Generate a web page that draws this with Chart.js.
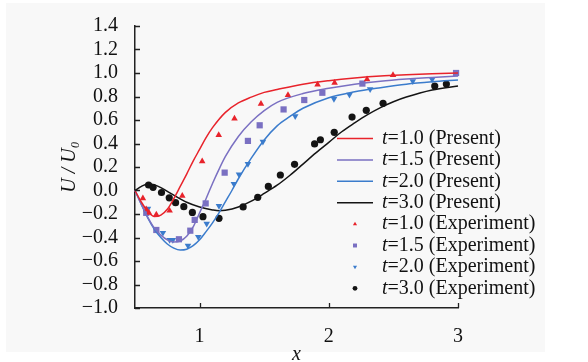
<!DOCTYPE html>
<html><head><meta charset="utf-8">
<script src="https://cdn.jsdelivr.net/npm/chart.js@4/dist/chart.umd.min.js"></script>
<style>
html,body{margin:0;padding:0;background:#fff;}
#wrap{position:relative;width:588px;height:362px;overflow:hidden;}
#panel{position:absolute;left:6px;top:3px;width:539px;height:349px;background:#f8f8f8;}
#c{position:absolute;left:0;top:0;}
</style></head><body>
<div id="wrap"><div id="panel"></div><canvas id="c" width="588" height="362"></canvas></div>
<script>
// ---- data ----
const xTicks = [1, 2, 3];
const yTicks = [-1.0, -0.8, -0.6, -0.4, -0.2, 0.0, 0.2, 0.4, 0.6, 0.8, 1.0, 1.2, 1.4];
const seriesNames = [
  "t=1.0 (Present)", "t=1.5 (Present)", "t=2.0 (Present)", "t=3.0 (Present)",
  "t=1.0 (Experiment)", "t=1.5 (Experiment)", "t=2.0 (Experiment)", "t=3.0 (Experiment)"
];

const present10X = [0.5,0.55,0.6,0.65,0.7,0.75,0.8,0.85,0.9,0.95,1.0,1.05,1.1,1.2,1.3,1.4,1.5,1.6,1.8,2.0,2.2,2.4,2.6,2.8,3.0];
const present10Y = [0,-0.10,-0.18,-0.222,-0.21,-0.16,-0.07,0.035,0.14,0.25,0.35,0.45,0.535,0.665,0.745,0.795,0.835,0.86,0.905,0.935,0.958,0.975,0.985,0.993,1.0];

const present15X = [0.5,0.55,0.6,0.65,0.7,0.75,0.8,0.85,0.9,0.95,1.0,1.05,1.1,1.15,1.2,1.3,1.4,1.5,1.6,1.8,2.0,2.2,2.4,2.6,2.8,3.0];
const present15Y = [0,-0.12,-0.23,-0.32,-0.38,-0.42,-0.438,-0.43,-0.39,-0.31,-0.19,-0.07,0.06,0.18,0.29,0.46,0.585,0.68,0.75,0.825,0.87,0.905,0.93,0.948,0.962,0.975];

const present20X = [0.5,0.55,0.6,0.65,0.7,0.75,0.8,0.85,0.9,0.95,1.0,1.05,1.1,1.15,1.2,1.25,1.3,1.4,1.5,1.6,1.7,1.8,2.0,2.2,2.4,2.6,2.8,3.0];
const present20Y = [0,-0.12,-0.235,-0.33,-0.40,-0.455,-0.49,-0.507,-0.50,-0.47,-0.42,-0.35,-0.275,-0.19,-0.095,0.0,0.10,0.275,0.43,0.55,0.63,0.70,0.79,0.84,0.875,0.905,0.925,0.94];

const present30X = [0.5,0.55,0.6,0.65,0.7,0.8,0.9,1.0,1.1,1.15,1.2,1.3,1.4,1.5,1.6,1.7,1.8,1.9,2.0,2.1,2.2,2.3,2.4,2.5,2.6,2.8,3.0];
const present30Y = [0,0.035,0.055,0.048,0.025,-0.04,-0.10,-0.14,-0.165,-0.172,-0.168,-0.14,-0.09,-0.025,0.045,0.13,0.225,0.32,0.41,0.50,0.575,0.645,0.705,0.755,0.795,0.855,0.89];

const exp10X = [0.561,0.587,0.608,0.665,0.768,0.866,1.02,1.148,1.27,1.475,1.684,1.913,2.045,2.296,2.497];
const exp10Y = [-0.066,-0.16,-0.19,-0.205,-0.172,-0.045,0.248,0.471,0.612,0.737,0.812,0.902,0.916,0.946,0.983];

const exp15X = [0.587,0.665,0.84,0.928,0.962,1.047,1.194,1.374,1.465,1.65,1.81,1.95,2.26,2.985];
const exp15Y = [-0.19,-0.336,-0.415,-0.342,-0.25,-0.11,0.152,0.422,0.555,0.69,0.77,0.832,0.91,1.0];

const exp20X = [0.6,0.716,0.768,0.793,0.91,0.99,1.055,1.15,1.265,1.305,1.374,1.49,1.74,2.04,2.16,2.32,2.65,2.8];
const exp20Y = [-0.155,-0.36,-0.42,-0.42,-0.47,-0.395,-0.283,-0.132,0.057,0.137,0.226,0.415,0.632,0.78,0.815,0.862,0.93,0.945];

const exp30X = [0.605,0.64,0.705,0.765,0.814,0.878,0.944,1.026,1.15,1.337,1.45,1.532,1.625,1.735,1.89,1.935,2.042,2.18,2.29,2.42,2.82,2.91];
const exp30Y = [0.047,0.027,-0.017,-0.062,-0.104,-0.138,-0.187,-0.223,-0.237,-0.14,-0.058,0.035,0.132,0.223,0.396,0.432,0.495,0.625,0.682,0.742,0.889,0.906];

// ---- build ----
const FONT = "'Liberation Serif','Times New Roman',serif";
const RED = '#e8232b', PURPLE = '#7a70c2', BLUE = '#3b7ccc', BLACK = '#141414';
const pts = (xs, ys) => xs.map((x, i) => ({x, y: ys[i]}));

function lineDs(i, xs, ys, color) {
  return {label: seriesNames[i], data: pts(xs, ys), borderColor: color, backgroundColor: color,
    borderWidth: 1.5, pointRadius: 0, showLine: true, cubicInterpolationMode: 'monotone', fill: false, clip: false};
}
function markDs(i, xs, ys, color, style, r, rot) {
  return {label: seriesNames[i], data: pts(xs, ys), borderColor: color, backgroundColor: color,
    borderWidth: 0, pointRadius: r, pointStyle: style, rotation: rot || 0, showLine: false, clip: false};
}

const datasets = [
  lineDs(0, present10X, present10Y, RED),
  lineDs(1, present15X, present15Y, PURPLE),
  lineDs(2, present20X, present20Y, BLUE),
  lineDs(3, present30X, present30Y, BLACK),
  markDs(4, exp10X, exp10Y, RED, 'triangle', 3.8, 0),
  markDs(5, exp15X, exp15Y, PURPLE, 'rect', 4.4, 0),
  markDs(6, exp20X, exp20Y, BLUE, 'triangle', 3.8, 180),
  markDs(7, exp30X, exp30Y, BLACK, 'circle', 3.6, 0)
];

const fmt = v => Math.abs(v) < 1e-9 ? '0.0' : v.toFixed(1).replace('-', '\u2212');

const innerTicks = {
  id: 'innerTicks',
  afterDraw(chart) {
    const {ctx, chartArea: a, scales: {x, y}} = chart;
    ctx.save();
    ctx.strokeStyle = '#222'; ctx.lineWidth = 1.3;
    ctx.beginPath();
    y.ticks.forEach(t => { const p = Math.round(y.getPixelForValue(t.value)) + 0.5; ctx.moveTo(a.left, p); ctx.lineTo(a.left + 5, p); });
    x.ticks.forEach(t => { const p = Math.round(x.getPixelForValue(t.value)) + 0.5; ctx.moveTo(p, a.bottom); ctx.lineTo(p, a.bottom - 5); });
    ctx.stroke();
    ctx.restore();
  }
};

const insideLegend = {
  id: 'insideLegend',
  afterDraw(chart) {
    const ctx = chart.ctx;
    const x0 = 337, x1 = 373, tx = 382, y0 = 138.5, dy = 21.4;
    ctx.save();
    ctx.textBaseline = 'middle';
    chart.data.datasets.forEach((ds, i) => {
      const y = y0 + i * dy;
      ctx.fillStyle = ds.backgroundColor; ctx.strokeStyle = ds.borderColor;
      if (ds.showLine) {
        ctx.lineWidth = 1.5;
        ctx.beginPath(); ctx.moveTo(x0, y); ctx.lineTo(x1, y); ctx.stroke();
      } else {
        Chart.helpers.drawPoint(ctx, {pointStyle: ds.pointStyle, rotation: ds.rotation, radius: ds.pointStyle === 'rect' ? 2.8 : 2.4, borderWidth: 0}, (x0 + x1) / 2, y);
      }
      ctx.fillStyle = '#111';
      const label = ds.label;
      ctx.font = 'italic 20px ' + FONT;
      ctx.fillText(label[0], tx, y);
      const w = ctx.measureText(label[0]).width;
      ctx.font = '20px ' + FONT;
      ctx.fillText(label.slice(1), tx + w, y);
    });
    ctx.restore();
  }
};

new Chart(document.getElementById('c'), {
  type: 'scatter',
  data: {datasets},
  options: {
    responsive: false,
    animation: false,
    events: [],
    layout: {padding: {left: 0, right: 130, top: 26, bottom: 0}},
    plugins: {legend: {display: false}, tooltip: {enabled: false}},
    scales: {
      x: {
        type: 'linear', min: 0.5, max: 3,
        afterBuildTicks: s => { s.ticks = xTicks.map(v => ({value: v})); },
        afterFit: s => { s.height = 54; },
        grid: {display: false},
        border: {display: true, color: '#222', width: 1.5},
        ticks: {autoSkip: false, maxRotation: 0, padding: 9, color: '#111', font: {family: FONT, size: 20}, callback: v => String(v)},
        title: {display: true, text: 'x', color: '#111', font: {family: FONT, size: 20, style: 'italic'}, padding: {top: 0, bottom: -5}}
      },
      y: {
        type: 'linear', min: -1.0, max: 1.4,
        afterBuildTicks: s => { s.ticks = yTicks.map(v => ({value: v})); },
        afterFit: s => { s.width = 135; },
        grid: {display: false},
        border: {display: true, color: '#222', width: 1.5},
        ticks: {autoSkip: false, padding: 9, color: '#111', font: {family: FONT, size: 20}, callback: v => fmt(v)},
        title: {display: true, text: 'U / U\u2080', color: '#111', font: {family: FONT, size: 20, style: 'italic'}, padding: {top: 58, bottom: 0}}
      }
    }
  },
  plugins: [innerTicks, insideLegend]
});
</script>
</body></html>
